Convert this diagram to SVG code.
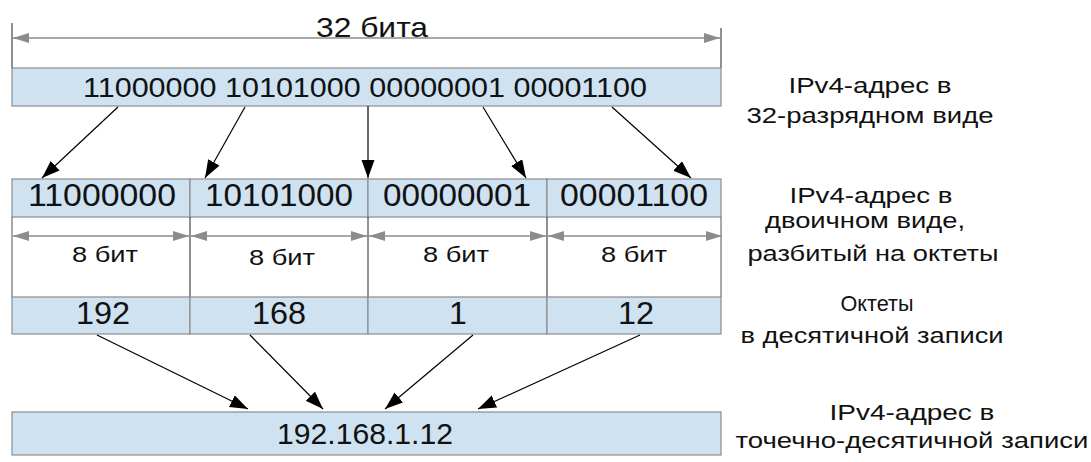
<svg xmlns="http://www.w3.org/2000/svg" width="1091" height="462" viewBox="0 0 1091 462">
<defs>
<style>
.bx{fill:#cfe2f2;stroke:#8c8c8c;stroke-width:1.2}
.t{font-family:"Liberation Sans",Arial,sans-serif;fill:#111}
.c{text-anchor:middle}
.dim{stroke:#8c8c8c;stroke-width:1.5;fill:none}
.arr{stroke:#000;stroke-width:1.2;fill:none;marker-end:url(#ah)}
.sep{stroke:#222;stroke-width:1}
</style>
<marker id="ah" markerUnits="userSpaceOnUse" markerWidth="20" markerHeight="14" refX="18" refY="6.5" orient="auto">
<path d="M0,0 L18,6.5 L0,13 Z" fill="#000"/>
</marker>
<marker id="ge" markerUnits="userSpaceOnUse" markerWidth="18" markerHeight="12" refX="16" refY="5" orient="auto">
<path d="M0,0 L16,5 L0,10 Z" fill="#8c8c8c"/>
</marker>
<marker id="gs" markerUnits="userSpaceOnUse" markerWidth="18" markerHeight="12" refX="0" refY="5" orient="auto">
<path d="M16,0 L0,5 L16,10 Z" fill="#8c8c8c"/>
</marker>
</defs>
<rect width="1091" height="462" fill="#fff"/>

<g id="dim32">
<line x1="12" y1="23" x2="12" y2="68" class="sep"/>
<line x1="721" y1="28" x2="721" y2="68" class="sep"/>
<line x1="13" y1="38" x2="720" y2="38" class="dim" marker-start="url(#gs)" marker-end="url(#ge)"/>
<text x="372" y="37" class="t c" font-size="28" textLength="112" lengthAdjust="spacingAndGlyphs">32 бита</text>
</g>

<g id="bin32">
<rect x="12" y="68" width="709" height="38" class="bx"/>
<text x="83" y="97" class="t" font-size="27" textLength="564" lengthAdjust="spacingAndGlyphs">11000000 10101000 00000001 00001100</text>
</g>

<g id="octets-bin">
<rect x="12" y="179" width="178" height="38" class="bx"/>
<rect x="190" y="179" width="178" height="38" class="bx"/>
<rect x="368" y="179" width="179" height="38" class="bx"/>
<rect x="547" y="179" width="174" height="38" class="bx"/>
<text x="102" y="206" class="t c" font-size="31" textLength="148" lengthAdjust="spacingAndGlyphs">11000000</text>
<text x="279" y="206" class="t c" font-size="31" textLength="148" lengthAdjust="spacingAndGlyphs">10101000</text>
<text x="457" y="206" class="t c" font-size="31" textLength="148" lengthAdjust="spacingAndGlyphs">00000001</text>
<text x="634" y="206" class="t c" font-size="31" textLength="148" lengthAdjust="spacingAndGlyphs">00001100</text>
</g>

<g id="bits">
<line x1="12" y1="217" x2="12" y2="297" stroke="#555" stroke-width="1"/>
<line x1="721" y1="217" x2="721" y2="297" stroke="#555" stroke-width="1"/>
<line x1="190" y1="217" x2="190" y2="297" class="sep"/>
<line x1="368" y1="217" x2="368" y2="297" class="sep"/>
<line x1="547" y1="217" x2="547" y2="297" class="sep"/>
<line x1="13" y1="236" x2="189" y2="236" class="dim" marker-start="url(#gs)" marker-end="url(#ge)"/>
<line x1="191" y1="236" x2="367" y2="236" class="dim" marker-start="url(#gs)" marker-end="url(#ge)"/>
<line x1="369" y1="236" x2="546" y2="236" class="dim" marker-start="url(#gs)" marker-end="url(#ge)"/>
<line x1="548" y1="236" x2="722" y2="236" class="dim" marker-start="url(#gs)" marker-end="url(#ge)"/>
<text x="105" y="262" class="t c" font-size="22" textLength="66" lengthAdjust="spacingAndGlyphs">8 бит</text>
<text x="282" y="265" class="t c" font-size="22" textLength="66" lengthAdjust="spacingAndGlyphs">8 бит</text>
<text x="456" y="262" class="t c" font-size="22" textLength="66" lengthAdjust="spacingAndGlyphs">8 бит</text>
<text x="634" y="262" class="t c" font-size="22" textLength="66" lengthAdjust="spacingAndGlyphs">8 бит</text>
</g>

<g id="octets-dec">
<rect x="12" y="297" width="178" height="37" class="bx"/>
<rect x="190" y="297" width="178" height="37" class="bx"/>
<rect x="368" y="297" width="179" height="37" class="bx"/>
<rect x="547" y="297" width="174" height="37" class="bx"/>
<text x="103" y="324" class="t c" font-size="32" textLength="54" lengthAdjust="spacingAndGlyphs">192</text>
<text x="279" y="324" class="t c" font-size="32" textLength="54" lengthAdjust="spacingAndGlyphs">168</text>
<text x="458" y="324" class="t c" font-size="32">1</text>
<text x="636" y="324" class="t c" font-size="32" textLength="36" lengthAdjust="spacingAndGlyphs">12</text>
</g>

<g id="dotted">
<rect x="12" y="412" width="709" height="43" class="bx"/>
<text x="365" y="444" class="t c" font-size="30" textLength="176" lengthAdjust="spacingAndGlyphs">192.168.1.12</text>
</g>

<g id="connectors">
<line x1="118" y1="107" x2="42" y2="178" class="arr"/>
<line x1="245" y1="107" x2="205" y2="178" class="arr"/>
<line x1="368" y1="106" x2="368" y2="178" class="arr"/>
<line x1="483" y1="107" x2="526" y2="178" class="arr"/>
<line x1="612" y1="107" x2="691" y2="178" class="arr"/>
<line x1="97" y1="335" x2="248" y2="409" class="arr"/>
<line x1="250" y1="335" x2="323" y2="409" class="arr"/>
<line x1="473" y1="335" x2="385" y2="409" class="arr"/>
<line x1="640" y1="335" x2="478" y2="409" class="arr"/>
</g>

<g id="labels" class="t c" font-size="22">
<text x="870" y="93" textLength="163" lengthAdjust="spacingAndGlyphs">IPv4-адрес в</text>
<text x="870" y="123" textLength="247" lengthAdjust="spacingAndGlyphs">32-разрядном виде</text>
<text x="871" y="203" textLength="163" lengthAdjust="spacingAndGlyphs">IPv4-адрес в</text>
<text x="865" y="228" textLength="200" lengthAdjust="spacingAndGlyphs">двоичном виде,</text>
<text x="873" y="261" textLength="251" lengthAdjust="spacingAndGlyphs">разбитый на октеты</text>
<text x="877" y="311" textLength="73" lengthAdjust="spacingAndGlyphs">Октеты</text>
<text x="872" y="343" textLength="263" lengthAdjust="spacingAndGlyphs">в десятичной записи</text>
<text x="912" y="420" textLength="165" lengthAdjust="spacingAndGlyphs">IPv4-адрес в</text>
<text x="912" y="448" textLength="353" lengthAdjust="spacingAndGlyphs">точечно-десятичной записи</text>
</g>
</svg>
